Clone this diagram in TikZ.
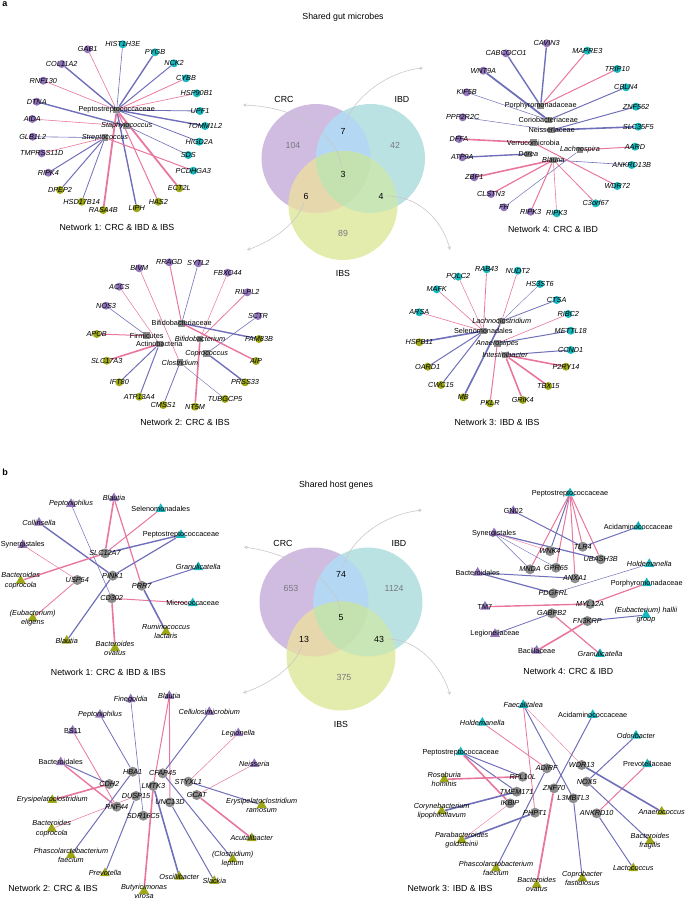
\documentclass[tikz,border=0pt]{standalone}
\usepackage{fontspec}
\setmainfont{Liberation Sans}
\usetikzlibrary{shapes.geometric}

\definecolor{gpurple}{RGB}{146,116,188}
\definecolor{gteal}{RGB}{22,184,190}
\definecolor{golive}{RGB}{158,168,22}
\definecolor{ggray}{RGB}{140,140,140}
\definecolor{epink}{RGB}{232,118,158}
\definecolor{eblue}{RGB}{112,112,186}
\definecolor{vcrc}{RGB}{208,188,224}
\definecolor{vibd}{RGB}{186,226,226}
\definecolor{vibs}{RGB}{227,236,172}
\definecolor{vci}{RGB}{180,216,244}
\definecolor{vcs}{RGB}{230,216,172}
\definecolor{vis}{RGB}{200,230,182}
\definecolor{vall}{RGB}{196,226,176}
\definecolor{arrgray}{RGB}{200,200,200}
\definecolor{numgray}{RGB}{120,120,128}
\newcommand{\labfont}{\fontsize{7.3}{9.2}\selectfont}
\newcommand{\netfont}{\fontsize{8.8}{10.5}\selectfont}
\pgfdeclarelayer{edges}
\pgfsetlayers{edges,main}

\begin{document}
\begin{tikzpicture}[x=1pt,y=-1pt,
	pu/.style={circle,fill=gpurple,inner sep=0pt,minimum size=8pt},
	tl/.style={circle,fill=gteal,inner sep=0pt,minimum size=8pt},
	ol/.style={circle,fill=golive,inner sep=0pt,minimum size=8pt},
	mic/.style={rectangle,fill=ggray,inner sep=0pt,minimum size=6.5pt},
	hg/.style={circle,fill=ggray,inner sep=0pt,minimum size=10pt},
	tri/.style={regular polygon,regular polygon sides=3,fill=#1,inner sep=0pt,minimum size=11.5pt},
	mp/.style={tri=gpurple},mt/.style={tri=gteal},mo/.style={tri=golive},
	glab/.style={font=\labfont\itshape,inner sep=0pt,align=center},
	tlab/.style={font=\labfont,inner sep=0pt,align=center},
	gene/.style={label={[glab]center:#1}},
	taxon/.style={label={[tlab]center:#1}},
	pk/.style={draw=epink,line width=#1},pk/.default=0.8pt,
	bl/.style={draw=eblue,line width=#1},bl/.default=0.8pt,
	net/.style={font=\netfont},
	vnum/.style={font=\netfont,text=numgray},
	vshr/.style={font=\netfont,text=black},
	arr/.style={draw=arrgray,line width=0.6pt,-stealth}]

\useasboundingbox (0,0) rectangle (686,899);

\node[font=\fontsize{9}{10}\selectfont\bfseries] (pa) at (5,4) {a};
\node[font=\fontsize{9}{10}\selectfont\bfseries] (pb) at (5,472) {b};
\node[net] (ttla) at (343,17) {Shared gut microbes};
\node[net] (ttlb) at (336,485) {Shared host genes};

% venn diagrams
\coordinate (crcA) at (316,158.5);
\coordinate (ibdA) at (370.5,158.5);
\coordinate (ibsA) at (343,205.5);
\coordinate (crcB) at (314,602);
\coordinate (ibdB) at (368,602);
\coordinate (ibsB) at (341,656);
\foreach \v in {A,B}{
	\fill[vcrc] (crc\v) circle (54.5pt);
	\fill[vibd] (ibd\v) circle (54.5pt);
	\fill[vibs] (ibs\v) circle (54.5pt);
	\begin{scope}\clip (crc\v) circle (54.5pt);\fill[vci] (ibd\v) circle (54.5pt);\end{scope}
	\begin{scope}\clip (crc\v) circle (54.5pt);\fill[vcs] (ibs\v) circle (54.5pt);\end{scope}
	\begin{scope}\clip (ibd\v) circle (54.5pt);\fill[vis] (ibs\v) circle (54.5pt);\end{scope}
	\begin{scope}\clip (crc\v) circle (54.5pt);\clip (ibd\v) circle (54.5pt);\fill[vall] (ibs\v) circle (54.5pt);\end{scope}
}

\node[net] (crcla) at (284,99) {CRC};
\node[net] (ibdla) at (402,99) {IBD};
\node[net] (ibsla) at (343,273) {IBS};
\node[vnum] (nA104) at (293,145) {104};
\node[vshr] (nA7) at (343,131) {7};
\node[vnum] (nA42) at (395,145) {42};
\node[vshr] (nA3) at (343,174) {3};
\node[vshr] (nA6) at (306,196) {6};
\node[vshr] (nA4) at (381,196) {4};
\node[vnum] (nA89) at (343,233) {89};
\coordinate (tipA1) at (243,105);
\coordinate (tipA2) at (423,68);
\coordinate (tipA3) at (247,250);
\coordinate (tipA4) at (450,250);
\draw[arr] (nA3) .. controls (337,135) and (300,107) .. (tipA1);
\draw[arr] (nA7) .. controls (352,100) and (385,72) .. (tipA2);
\draw[arr] (nA6) .. controls (298,222) and (275,240) .. (tipA3);
\draw[arr] (nA4) .. controls (420,196) and (443,222) .. (tipA4);

\node[net] (crclb) at (283,543) {CRC};
\node[net] (ibdlb) at (399,543) {IBD};
\node[net] (ibslb) at (341,724) {IBS};
\node[vnum] (nB653) at (291,588) {653};
\node[vshr] (nB74) at (341,574) {74};
\node[vnum] (nB1124) at (394,588) {1124};
\node[vshr] (nB5) at (341,618) {5};
\node[vshr] (nB13) at (304,639) {13};
\node[vshr] (nB43) at (379,639) {43};
\node[vnum] (nB375) at (344,677) {375};
\coordinate (tipB1) at (244,547);
\coordinate (tipB2) at (422,510);
\coordinate (tipB3) at (243,693);
\coordinate (tipB4) at (450,695);
\draw[arr] (nB5) .. controls (338,585) and (300,555) .. (tipB1);
\draw[arr] (nB74) .. controls (350,540) and (382,515) .. (tipB2);
\draw[arr] (nB13) .. controls (296,665) and (272,683) .. (tipB3);
\draw[arr] (nB43) .. controls (420,639) and (443,670) .. (tipB4);

% network 1, microbes
\node[mic,taxon=Peptostreptococcaceae] (a1pep) at (116.7,110) {};
\node[mic,gene=Staphylococcus] (a1sta) at (126.7,126) {};
\node[mic,gene=Streptococcus] (a1str) at (105,137.7) {};
\node[pu,gene=GAB1] (a1gab) at (87.7,49.3) {};
\node[pu,gene=COL11A2] (a1col) at (61.7,64) {};
\node[pu,gene=RNF130] (a1rnf) at (43.3,80.7) {};
\node[pu,gene=DTNA] (a1dtn) at (36.7,101.7) {};
\node[pu,gene=AIDA] (a1aid) at (32.3,119) {};
\node[pu,gene=GLB1L2] (a1glb) at (32.7,136.7) {};
\node[pu,gene=TMPRSS11D] (a1tmp) at (41.7,153.3) {};
\node[pu,gene=RIPK4] (a1rip) at (48.3,172.7) {};
\node[ol,gene=DPEP2] (a1dpe) at (60,190) {};
\node[ol,gene=HSD17B14] (a1hsd) at (81.7,201.7) {};
\node[ol,gene=RASA4B] (a1ras) at (103.3,210) {};
\node[ol,gene=LIPH] (a1lip) at (136.7,208.3) {};
\node[ol,gene=HAS2] (a1has) at (158.3,201.7) {};
\node[ol,gene=ECT2L] (a1ect) at (179.3,188.3) {};
\node[tl,gene=HIST1H3E] (a1his) at (122.7,44.3) {};
\node[tl,gene=PYGB] (a1pyg) at (155,52.3) {};
\node[tl,gene=NCK2] (a1nck) at (174,63.3) {};
\node[tl,gene=CYBB] (a1cyb) at (186,78.3) {};
\node[tl,gene=HSP90B1] (a1hsp) at (196.7,93.3) {};
\node[tl,gene=UPF1] (a1upf) at (200,111) {};
\node[tl,gene=TOMM1L2] (a1tom) at (205,126) {};
\node[tl,gene=HIGD2A] (a1hig) at (199.3,141.7) {};
\node[tl,gene=SDS] (a1sds) at (188.3,155) {};
\node[tl,gene=PCDHGA3] (a1pcd) at (193.3,170.7) {};
\node[net] (t1a) at (117,227) {Network 1: CRC \& IBD \& IBS};

% network 4, microbes
\node[mic,taxon=Porphyromonadaceae] (a4por) at (540.7,106) {};
\node[mic,taxon=Coriobacteriaceae] (a4cor) at (548.3,120) {};
\node[mic,taxon=Neisseriaceae] (a4nei) at (551.7,130) {};
\node[mic,taxon=Verrucomicrobia] (a4ver) at (533.3,142.7) {};
\node[mic,gene=Lachnospira] (a4lac) at (580,150) {};
\node[mic,gene=Dorea] (a4dor) at (528.3,154) {};
\node[mic,gene=Blautia] (a4bla) at (553.3,160) {};
\node[pu,gene=CAVIN3] (a4cav) at (546.7,43.3) {};
\node[pu,gene=CABCOCO1] (a4cab) at (506,53.3) {};
\node[pu,gene=WNT9A] (a4wnt) at (483.3,70.7) {};
\node[pu,gene=KIF5B] (a4kif) at (466.7,92.3) {};
\node[pu,gene=PPP2R2C] (a4ppp) at (462.7,117.3) {};
\node[pu,gene=DFFA] (a4dff) at (459,139) {};
\node[pu,gene=ATP9A] (a4atp) at (462.3,157.3) {};
\node[pu,gene=ZBP1] (a4zbp) at (474.3,177.3) {};
\node[pu,gene=CLSTN3] (a4cls) at (491,194) {};
\node[pu,gene=FH] (a4fh) at (504,207.3) {};
\node[pu,gene=RIPK3] (a4rkp) at (530.7,211.7) {};
\node[tl,gene=RIPK3] (a4rkt) at (556.7,213.3) {};
\node[tl,gene=MAPRE3] (a4map) at (587.3,50.7) {};
\node[tl,gene=TRIP10] (a4tri) at (617.3,69) {};
\node[tl,gene=CBLN4] (a4cbl) at (626,87.3) {};
\node[tl,gene=ZNF562] (a4znf) at (636,106.7) {};
\node[tl,gene=SLC35F5] (a4slc) at (638.3,126.7) {};
\node[tl,gene=AARD] (a4aar) at (635,146.7) {};
\node[tl,gene=ANKRD13B] (a4ank) at (631.7,165) {};
\node[tl,gene=WDR72] (a4wdr) at (617.3,186) {};
\node[tl,gene=C3orf67] (a4c3o) at (595.7,203.3) {};
\node[net] (t4a) at (553,229.3) {Network 4: CRC \& IBD};

% network 2, microbes
\node[mic,taxon=Bifidobacteriaceae] (a2bif) at (181.7,323.3) {};
\node[mic,taxon=Firmicutes] (a2fir) at (146.7,335.7) {};
\node[mic,taxon=Actinobacteria] (a2act) at (159.3,344) {};
\node[mic,gene=Bifidobacterium] (a2bfm) at (200,339) {};
\node[mic,gene=Coprococcus] (a2cop) at (206.7,353.3) {};
\node[mic,gene=Clostridium] (a2clo) at (180,362.7) {};
\node[pu,gene=BIVM] (a2biv) at (139.3,268.3) {};
\node[pu,gene=RRAGD] (a2rra) at (169.3,262.3) {};
\node[pu,gene=SYTL2] (a2syt) at (198.3,263.3) {};
\node[pu,gene=FBXO44] (a2fbx) at (227.7,272.7) {};
\node[pu,gene=RILPL2] (a2ril) at (247.3,292.3) {};
\node[pu,gene=SCTR] (a2sct) at (258,316) {};
\node[pu,gene=ACCS] (a2acc) at (119.3,286.7) {};
\node[pu,gene=NOS3] (a2nos) at (106,305.7) {};
\node[ol,gene=FAM83B] (a2fam) at (259,339) {};
\node[ol,gene=AIP] (a2aip) at (256,361) {};
\node[ol,gene=APOB] (a2apo) at (96.7,334) {};
\node[ol,gene=SLC17A3] (a2slc) at (106.7,360.7) {};
\node[ol,gene=IFT80] (a2ift) at (119.3,382.3) {};
\node[ol,gene=ATP13A4] (a2atp) at (139.3,396.7) {};
\node[ol,gene=CMSS1] (a2cms) at (163.3,405) {};
\node[ol,gene=NT5M] (a2nt5) at (195,406.7) {};
\node[ol,gene=TUBGCP5] (a2tub) at (225,399) {};
\node[ol,gene=PRSS33] (a2prs) at (245,382.3) {};
\node[net] (t2a) at (185,422.3) {Network 2: CRC \& IBS};

% network 3, microbes
\node[mic,gene=Lachnoclostridium] (a3lcl) at (501.7,321) {};
\node[mic,taxon=Selenomonadales] (a3sel) at (483.3,331) {};
\node[mic,gene=Anaerostipes] (a3ana) at (497.3,343.3) {};
\node[mic,gene=Intestinibacter] (a3int) at (505,355) {};
\node[tl,gene=PQLC2] (a3pql) at (458.3,276.7) {};
\node[tl,gene=RAB43] (a3rab) at (486.7,269.3) {};
\node[tl,gene=NUDT2] (a3nud) at (517.7,270.7) {};
\node[tl,gene=HS3ST6] (a3hs3) at (540,284) {};
\node[tl,gene=CTSA] (a3cts) at (556.7,300) {};
\node[tl,gene=RIBC2] (a3rib) at (568.3,314) {};
\node[tl,gene=METTL18] (a3met) at (570.7,330.7) {};
\node[tl,gene=CCND1] (a3ccn) at (570.7,350) {};
\node[tl,gene=MAFK] (a3maf) at (436.7,289.3) {};
\node[tl,gene=ARSA] (a3ars) at (419.3,312.3) {};
\node[ol,gene=HSPB11] (a3hsp) at (419.3,342.3) {};
\node[ol,gene=OARD1] (a3oar) at (427.7,366.7) {};
\node[ol,gene=CWC15] (a3cwc) at (441,385) {};
\node[ol,gene=MB] (a3mb) at (463.3,397.3) {};
\node[ol,gene=PKLR] (a3pkl) at (490,403.3) {};
\node[ol,gene=GRIK4] (a3gri) at (522.7,400) {};
\node[ol,gene=TBX15] (a3tbx) at (548.3,386) {};
\node[ol,gene=P2RY14] (a3p2r) at (566,366.7) {};
\node[net] (t3a) at (497,422.3) {Network 3: IBD \& IBS};

% network 1, host genes
\node[hg,gene=SLC12A7] (b1slc) at (105,553.3) {};
\node[hg,gene=PINK1] (b1pin) at (112.7,575.7) {};
\node[hg,gene=USP54] (b1usp) at (77.3,580) {};
\node[hg,gene=PRR7] (b1prr) at (141.7,585.7) {};
\node[hg,gene=CD302] (b1cd) at (111.7,598.3) {};
\node[mp,gene=Peptoniphilus] (b1pep) at (71,504) {};
\node[mp,gene=Blautia] (b1blt) at (114,498.3) {};
\node[mp,gene=Collinsella] (b1col) at (39,522.7) {};
\node[mp,taxon=Synergistales] (b1syn) at (22.7,545) {};
\node[mt,taxon=Selenomonadales] (b1sel) at (160.7,509) {};
\node[mt,taxon=Peptostreptococcaceae] (b1pst) at (181,535) {};
\node[mt,gene=Granulicatella] (b1gra) at (198.3,567.3) {};
\node[mt,taxon=Micrococcaceae] (b1mic) at (192.7,603.3) {};
\node[mo,gene={Bacteroides\\coprocola}] (b1bco) at (20.7,580.7) {};
\node[mo,gene={(Eubacterium)\\eligens}] (b1eub) at (32.7,618.3) {};
\node[mo,gene=Blautia] (b1blb) at (66.7,640.7) {};
\node[mo,gene={Bacteroides\\ovatus}] (b1bov) at (115,648) {};
\node[mo,gene={Ruminococcus\\lactaris}] (b1rum) at (166,631.7) {};
\node[net] (t1b) at (108.3,672.3) {Network 1: CRC \& IBD \& IBS};

% network 4, host genes
\node[hg,gene=WNK4] (b4wnk) at (550,551) {};
\node[hg,gene=TLR4] (b4tlr) at (582.7,546.7) {};
\node[hg,gene=UBASH3B] (b4uba) at (600.7,559.3) {};
\node[hg,gene=MNDA] (b4mnd) at (530,569.3) {};
\node[hg,gene=GPR65] (b4gpr) at (556,567.7) {};
\node[hg,gene=ANXA1] (b4anx) at (575,578.3) {};
\node[hg,gene=PDGFRL] (b4pdg) at (553.3,593.3) {};
\node[hg,gene=MYL12A] (b4myl) at (590,604) {};
\node[hg,gene=GABPB2] (b4gab) at (551.7,613.3) {};
\node[hg,gene=FN3KRP] (b4fn3) at (587.3,621) {};
\node[mt,taxon=Peptostreptococcaceae] (b4pst) at (570,493.3) {};
\node[mt,taxon=Acidaminococcaceae] (b4aci) at (638.3,526.7) {};
\node[mt,gene=Holdemanella] (b4hol) at (649.3,564) {};
\node[mt,taxon=Porphyromonadaceae] (b4por) at (646.7,583.3) {};
\node[mt,gene={(Eubacterium) hallii\\group}] (b4eub) at (646,615) {};
\node[mt,gene=Granulicatella] (b4gra) at (600,654) {};
\node[mp,taxon=GN02] (b4gn) at (513.3,511) {};
\node[mp,taxon=Synergistales] (b4syn) at (494,533.3) {};
\node[mp,taxon=Bacteroidales] (b4bac) at (477.7,572.7) {};
\node[mp,taxon=TM7] (b4tm7) at (485,606.7) {};
\node[mp,taxon=Legionellaceae] (b4leg) at (495,634) {};
\node[mp,taxon=Bacillaceae] (b4bcl) at (536.7,650.7) {};
\node[net] (t4b) at (568.3,671.7) {Network 4: CRC \& IBD};

% network 2, host genes
\node[hg,gene=HBA1] (b2hba) at (132.7,771.7) {};
\node[hg,gene=CFAP45] (b2cfa) at (162.7,773.3) {};
\node[hg,gene=LMTK3] (b2lmt) at (153.3,786) {};
\node[hg,gene=CDH2] (b2cdh) at (109.3,784) {};
\node[hg,gene=STYXL1] (b2sty) at (188.3,781.7) {};
\node[hg,gene=GCAT] (b2gca) at (196.7,795) {};
\node[hg,gene=DUSP15] (b2dus) at (136,796) {};
\node[hg,gene=UNC13D] (b2unc) at (170,802.3) {};
\node[hg,gene=RNF44] (b2rnf) at (116.7,806.7) {};
\node[hg,gene=SDR16C5] (b2sdr) at (143.3,815.7) {};
\node[mp,gene=Finegoldia] (b2fin) at (130.7,699.3) {};
\node[mp,gene=Blautia] (b2bla) at (169.3,696) {};
\node[mp,gene=Peptoniphilus] (b2pep) at (100,714.7) {};
\node[mp,gene=Cellulosimicrobium] (b2cel) at (209.3,712) {};
\node[mp,taxon=BS11] (b2bs) at (72.7,730.7) {};
\node[mp,gene=Legionella] (b2leg) at (238.3,733.3) {};
\node[mp,taxon=Bacteroidales] (b2bac) at (60.7,762.3) {};
\node[mp,gene=Neisseria] (b2nei) at (254.3,764) {};
\node[mo,gene=Erysipelatoclostridium] (b2ery) at (52.3,800) {};
\node[mo,gene={Bacteroides\\coprocola}] (b2bco) at (51.7,828.7) {};
\node[mo,gene={Phascolarctobacterium\\faecium}] (b2pha) at (71,855) {};
\node[mo,gene=Prevotella] (b2pre) at (105,873.3) {};
\node[mo,gene={Butyricimonas\\virosa}] (b2but) at (144,891) {};
\node[mo,gene=Oscillibacter] (b2osc) at (179.3,876.7) {};
\node[mo,gene=Slackia] (b2sla) at (214.3,881) {};
\node[mo,gene={(Clostridium)\\leptum}] (b2clo) at (232.7,859.3) {};
\node[mo,gene=Acutalibacter] (b2acu) at (251.7,838.3) {};
\node[mo,gene={Erysipelatoclostridium\\ramosum}] (b2era) at (261.7,805) {};
\node[net] (t2b) at (53,888.3) {Network 2: CRC \& IBS};

% network 3, host genes
\node[hg,gene=ADIRF] (b3adi) at (546.7,768.3) {};
\node[hg,gene=WDR13] (b3wdr) at (581.7,765) {};
\node[hg,gene=RPL10L] (b3rpl) at (522.7,776.7) {};
\node[hg,gene=NOX5] (b3nox) at (586.7,781.7) {};
\node[hg,gene=ZNF70] (b3znf) at (554,788.3) {};
\node[hg,gene=TMEM171] (b3tme) at (516.7,791.7) {};
\node[hg,gene=L3MBTL3] (b3l3m) at (573.3,798.3) {};
\node[hg,gene=IKBIP] (b3ikb) at (510,803.3) {};
\node[hg,gene=PHPT1] (b3php) at (535,812.7) {};
\node[hg,gene=ANKRD10] (b3ank) at (596.7,813.3) {};
\node[mt,gene=Faecalitalea] (b3fae) at (523.3,705) {};
\node[mt,taxon=Acidaminococcaceae] (b3aci) at (592.7,715) {};
\node[mt,gene=Holdemanella] (b3hol) at (482.3,722.7) {};
\node[mt,gene=Odoribacter] (b3odo) at (636,735.7) {};
\node[mt,taxon=Peptostreptococcaceae] (b3pst) at (460.7,752.3) {};
\node[mt,taxon=Prevotellaceae] (b3pre) at (647.3,764.3) {};
\node[mo,gene={Roseburia\\hominis}] (b3ros) at (444.3,779.3) {};
\node[mo,gene={Corynebacterium\\lipophiloflavum}] (b3cor) at (441.7,811.3) {};
\node[mo,gene={Parabacteroides\\goldsteinii}] (b3par) at (461.7,840) {};
\node[mo,gene={Phascolarctobacterium\\faecium}] (b3pha) at (496,868.3) {};
\node[mo,gene={Bacteroides\\ovatus}] (b3bov) at (536.7,884.7) {};
\node[mo,gene={Coprobacter\\fastidiosus}] (b3cop) at (582.3,878.3) {};
\node[mo,gene=Lactococcus] (b3lac) at (633.3,868.3) {};
\node[mo,gene={Bacteroides\\fragilis}] (b3bfr) at (650,841) {};
\node[mo,gene=Anaerococcus] (b3ana) at (661.7,811.7) {};
\node[net] (t3b) at (450,888.3) {Network 3: IBD \& IBS};

\begin{pgfonlayer}{edges}
\path (a1gab) edge[pk=0.6pt] (a1pep)
	(a1col) edge[bl=1.4pt] (a1pep)
	(a1rnf) edge[pk=0.6pt] (a1pep)
	(a1dtn) edge[bl=1.4pt] (a1sta)
	(a1aid) edge[pk=0.6pt] (a1sta)
	(a1glb) edge[bl=0.6pt] (a1str)
	(a1tmp) edge[pk=0.6pt] (a1str)
	(a1rip) edge[bl=1pt] (a1str)
	(a1dpe) edge[bl=1pt] (a1str)
	(a1hsd) edge[bl=0.8pt] (a1str)
	(a1ras) edge[pk=1.8pt] (a1pep)
	(a1lip) edge[bl=1.4pt] (a1pep)
	(a1has) edge[pk=1pt] (a1pep)
	(a1ect) edge[pk=1.8pt] (a1pep)
	(a1his) edge[bl=0.6pt] (a1pep)
	(a1pyg) edge[bl=1.4pt] (a1pep)
	(a1nck) edge[bl=1pt] (a1pep)
	(a1cyb) edge[pk=0.8pt] (a1pep)
	(a1hsp) edge[pk=0.6pt] (a1pep)
	(a1upf) edge[bl=0.8pt] (a1pep)
	(a1tom) edge[bl=1.4pt] (a1pep)
	(a1hig) edge[bl=0.8pt] (a1pep)
	(a1sds) edge[bl=0.6pt] (a1sta)
	(a1pcd) edge[pk=1pt] (a1str);
\path (a4cav) edge[bl=1.4pt] (a4por)
	(a4cab) edge[bl=1.4pt] (a4por)
	(a4wnt) edge[bl=1.8pt] (a4cor)
	(a4kif) edge[bl=0.5pt] (a4cor)
	(a4ppp) edge[bl=0.5pt] (a4nei)
	(a4dff) edge[pk=1.6pt] (a4ver)
	(a4atp) edge[bl=1.4pt] (a4dor)
	(a4zbp) edge[pk=1.6pt] (a4bla)
	(a4cls) edge[pk=1.2pt] (a4bla)
	(a4fh) edge[bl=0.5pt] (a4lac)
	(a4rkp) edge[pk=1pt] (a4bla)
	(a4rkt) edge[pk=0.6pt] (a4bla)
	(a4map) edge[pk=1pt] (a4por)
	(a4tri) edge[pk=1pt] (a4por)
	(a4cbl) edge[bl=1pt] (a4cor)
	(a4znf) edge[bl=1pt] (a4nei)
	(a4slc) edge[bl=1.6pt] (a4nei)
	(a4aar) edge[pk=1pt] (a4lac)
	(a4ank) edge[bl=0.6pt] (a4bla)
	(a4wdr) edge[pk=1pt] (a4ver)
	(a4c3o) edge[pk=0.8pt] (a4bla);
\path (a2biv) edge[pk=0.6pt] (a2clo)
	(a2rra) edge[pk=1pt] (a2bif)
	(a2syt) edge[bl=0.6pt] (a2bif)
	(a2fbx) edge[pk=0.5pt] (a2bfm)
	(a2ril) edge[pk=0.8pt] (a2bfm)
	(a2acc) edge[pk=0.5pt] (a2act)
	(a2nos) edge[bl=0.6pt] (a2fir)
	(a2sct) edge[bl=0.6pt] (a2cop)
	(a2fam) edge[bl=1.4pt] (a2bif)
	(a2aip) edge[pk=1.4pt] (a2bif)
	(a2apo) edge[pk=1pt] (a2fir)
	(a2slc) edge[pk=1.6pt] (a2act)
	(a2ift) edge[bl=1pt] (a2act)
	(a2atp) edge[bl=1pt] (a2act)
	(a2cms) edge[bl=0.8pt] (a2clo)
	(a2nt5) edge[pk=1.6pt] (a2bfm)
	(a2tub) edge[bl=0.4pt] (a2clo)
	(a2prs) edge[bl=1.4pt] (a2cop);
\path (a3pql) edge[pk=0.5pt] (a3sel)
	(a3rab) edge[pk=0.8pt] (a3sel)
	(a3nud) edge[pk=0.6pt] (a3lcl)
	(a3hs3) edge[bl=0.4pt] (a3lcl)
	(a3cts) edge[bl=0.8pt] (a3lcl)
	(a3rib) edge[pk=0.6pt] (a3ana)
	(a3met) edge[bl=1pt] (a3ana)
	(a3ccn) edge[bl=1pt] (a3int)
	(a3maf) edge[pk=0.6pt] (a3sel)
	(a3ars) edge[pk=0.6pt] (a3sel)
	(a3hsp) edge[bl=1.6pt] (a3sel)
	(a3oar) edge[bl=1pt] (a3sel)
	(a3cwc) edge[bl=1pt] (a3sel)
	(a3mb) edge[bl=1.6pt] (a3lcl)
	(a3pkl) edge[pk=1pt] (a3ana)
	(a3gri) edge[pk=1.6pt] (a3int)
	(a3tbx) edge[pk=1.6pt] (a3int)
	(a3p2r) edge[pk=1.6pt] (a3int);
\path (b1pep) edge[bl=0.5pt] (b1cd)
	(b1blt) edge[pk=1.6pt] (b1slc)
	(b1blt) edge[pk=1.2pt] (b1prr)
	(b1col) edge[bl=1.4pt] (b1pin)
	(b1syn) edge[pk=0.5pt] (b1usp)
	(b1sel) edge[pk=1pt] (b1slc)
	(b1pst) edge[bl=1.4pt] (b1slc)
	(b1pst) edge[bl=1.2pt] (b1pin)
	(b1blb) edge[bl=1.2pt] (b1pin)
	(b1bco) edge[pk=1.4pt] (b1slc)
	(b1gra) edge[bl=1pt] (b1prr)
	(b1mic) edge[pk=1pt] (b1cd)
	(b1eub) edge[pk=0.8pt] (b1usp)
	(b1bov) edge[pk=1.6pt] (b1cd)
	(b1rum) edge[bl=1.6pt] (b1prr);
\path (b4pst) edge[bl=1pt] (b4wnk)
	(b4pst) edge[pk=1pt] (b4mnd)
	(b4pst) edge[pk=1pt] (b4gpr)
	(b4pst) edge[pk=1pt] (b4anx)
	(b4pst) edge[pk=1pt] (b4tlr)
	(b4pst) edge[pk=1pt] (b4uba)
	(b4gn) edge[bl=1pt] (b4tlr)
	(b4syn) edge[bl=1.2pt] (b4uba)
	(b4syn) edge[bl=0.5pt] (b4mnd)
	(b4syn) edge[bl=0.4pt] (b4gpr)
	(b4syn) edge[pk=0.4pt] (b4wnk)
	(b4aci) edge[bl=1pt] (b4tlr)
	(b4hol) edge[bl=0.5pt] (b4pdg)
	(b4bac) edge[bl=1pt] (b4anx)
	(b4bac) edge[bl=1.2pt] (b4pdg)
	(b4por) edge[pk=1.2pt] (b4myl)
	(b4tm7) edge[pk=1.4pt] (b4myl)
	(b4eub) edge[bl=1pt] (b4fn3)
	(b4leg) edge[bl=0.8pt] (b4gab)
	(b4bcl) edge[pk=1.6pt] (b4fn3)
	(b4gra) edge[pk=1.2pt] (b4gab);
\path (b2fin) edge[bl=0.6pt] (b2sdr)
	(b2bla) edge[pk=1pt] (b2lmt)
	(b2bla) edge[pk=1pt] (b2unc)
	(b2pep) edge[bl=0.8pt] (b2hba)
	(b2cel) edge[bl=1pt] (b2cfa)
	(b2bs) edge[pk=0.8pt] (b2rnf)
	(b2leg) edge[pk=0.5pt] (b2sty)
	(b2bac) edge[bl=1pt] (b2cdh)
	(b2bac) edge[pk=1.4pt] (b2rnf)
	(b2nei) edge[pk=0.5pt] (b2gca)
	(b2ery) edge[pk=1.6pt] (b2cdh)
	(b2bco) edge[pk=0.5pt] (b2dus)
	(b2pha) edge[bl=1pt] (b2hba)
	(b2pre) edge[bl=1pt] (b2dus)
	(b2but) edge[pk=1.6pt] (b2lmt)
	(b2osc) edge[bl=1.6pt] (b2lmt)
	(b2sla) edge[bl=1pt] (b2unc)
	(b2clo) edge[bl=1pt] (b2cfa)
	(b2acu) edge[pk=1.6pt] (b2gca)
	(b2era) edge[bl=1pt] (b2sty);
\path (b3fae) edge[pk=0.8pt] (b3php)
	(b3fae) edge[bl=1pt] (b3l3m)
	(b3fae) edge[pk=0.4pt] (b3wdr)
	(b3aci) edge[bl=1pt] (b3znf)
	(b3hol) edge[pk=0.8pt] (b3adi)
	(b3odo) edge[bl=1pt] (b3nox)
	(b3pst) edge[bl=1pt] (b3rpl)
	(b3pst) edge[bl=1pt] (b3tme)
	(b3pst) edge[pk=1.6pt] (b3ikb)
	(b3pre) edge[pk=1pt] (b3ank)
	(b3ros) edge[pk=1.6pt] (b3rpl)
	(b3cor) edge[bl=1.6pt] (b3tme)
	(b3par) edge[bl=1.6pt] (b3php)
	(b3par) edge[pk=0.4pt] (b3ikb)
	(b3pha) edge[bl=1pt] (b3adi)
	(b3bov) edge[pk=1.8pt] (b3znf)
	(b3cop) edge[bl=1pt] (b3l3m)
	(b3lac) edge[bl=1pt] (b3ank)
	(b3bfr) edge[bl=1pt] (b3nox)
	(b3ana) edge[bl=1.6pt] (b3wdr);
\end{pgfonlayer}

\end{tikzpicture}
\end{document}
